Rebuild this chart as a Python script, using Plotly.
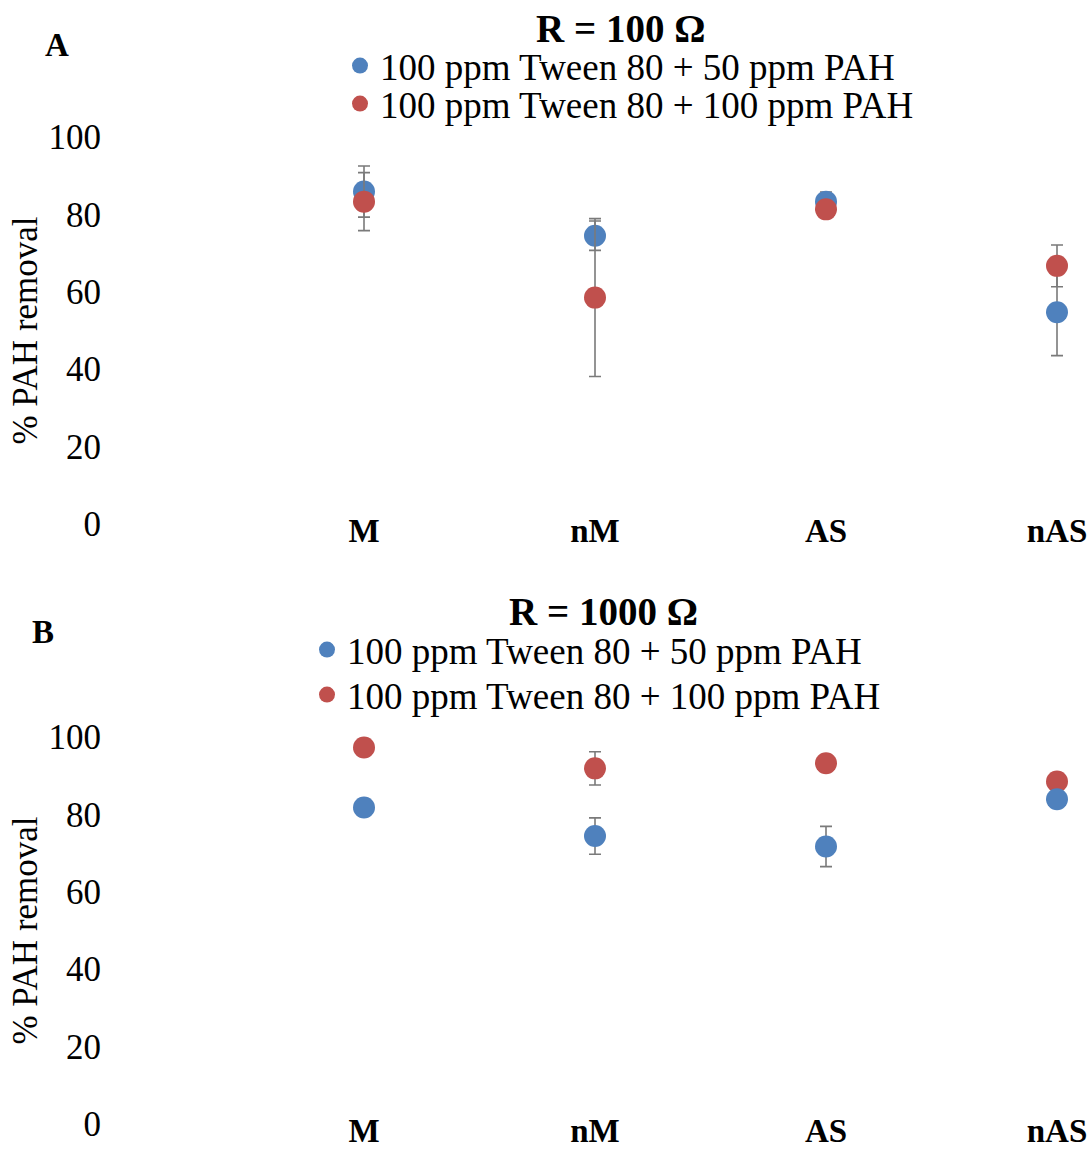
import plotly.graph_objects as go
from plotly.subplots import make_subplots

categories = ["M", "nM", "AS", "nAS"]
y_ticks = [0, 20, 40, 60, 80, 100]

# Panel A: R = 100 Ohm
a_50ppm = [85.9, 74.5, 83.3, 54.7]
a_50ppm_err = [6.6, 3.8, 2.5, 11.2]
a_100ppm = [83.3, 58.5, 81.3, 66.7]
a_100ppm_err = [7.5, 20.4, 1.5, 5.4]

# Panel B: R = 1000 Ohm
b_50ppm = [81.8, 74.4, 71.7, 83.9]
b_50ppm_err = [1.5, 4.7, 5.2, 1.5]
b_100ppm = [97.3, 91.9, 93.2, 88.5]
b_100ppm_err = [1.5, 4.3, 1.5, 1.5]

label_50 = "100 ppm Tween 80 + 50 ppm PAH"
label_100 = "100 ppm Tween 80 + 100 ppm PAH"

BLUE = "#4F81BD"
RED = "#C0504D"
ERR = "#7a7a7a"
FONT = "Liberation Serif"
W, H = 1089, 1151
L = 108

fig = make_subplots(rows=2, cols=1)

def add(row, y, err, color, name, legend):
    fig.add_trace(go.Scatter(
        x=categories, y=y, mode="markers", name=name,
        marker=dict(color=color, size=22, symbol="circle"),
        error_y=dict(type="data", array=err, visible=True, color=ERR,
                     thickness=1.6, width=6),
        cliponaxis=False, legend=legend, showlegend=True,
    ), row=row, col=1)

add(1, a_50ppm, a_50ppm_err, BLUE, label_50, "legend")
add(1, a_100ppm, a_100ppm_err, RED, label_100, "legend2")
add(2, b_100ppm, b_100ppm_err, RED, label_100, "legend4")
add(2, b_50ppm, b_50ppm_err, BLUE, label_50, "legend3")

def py(pix):
    return 1 - pix / H

def px(pix):
    return (pix - L) / (W - L)

xr = [(L - 364) / 231, (W - 364) / 231]
for r, (top, bot) in zip([1, 2], [(137, 524), (737, 1124)]):
    fig.update_xaxes(type="category", range=xr, showgrid=False, zeroline=False,
                     showline=False, ticks="", ticklabelstandoff=-16, automargin=False,
                     tickfont=dict(family=FONT, size=33, color="black", weight="bold"),
                     row=r, col=1)
    fig.update_yaxes(range=[0, 100], domain=[py(bot), py(top)], tickvals=y_ticks,
                     showgrid=False, zeroline=False, showline=False, ticks="",
                     automargin=False, ticklabelstandoff=6,
                     tickfont=dict(family=FONT, size=35, color="black"),
                     title=dict(text="% PAH removal", font=dict(family=FONT, size=35, color="black"),
                                standoff=0),
                     row=r, col=1)

def ann(text, x, y, size):
    return dict(text=text, x=px(x), y=py(y), xref="paper", yref="paper",
                xanchor="center", yanchor="middle", showarrow=False,
                font=dict(family=FONT, size=size, color="black"))

annotations = [
    ann("<b>A</b>", 57, 45, 33),
    ann("<b>B</b>", 43, 632, 33),
    ann("<b>R = 100 Ω</b>", 620, 28, 39),
    ann("<b>R = 1000 Ω</b>", 603, 611, 39),
]

def leg(marker_x, row_y):
    # one-entry legend; first row centre sits ~29 px below legend top
    return dict(x=px(marker_x - 22), xanchor="left", y=py(row_y - 29), yanchor="top",
                font=dict(family=FONT, size=37, color="black"),
                bgcolor="rgba(0,0,0,0)", itemsizing="trace", visible=True)

fig.update_layout(
    width=W, height=H,
    margin=dict(l=L, r=0, t=0, b=0),
    plot_bgcolor="white", paper_bgcolor="white",
    showlegend=True,
    annotations=annotations,
    legend=leg(362, 64),
    legend2=leg(362, 102),
    legend3=leg(329, 648),
    legend4=leg(329, 693),
)

fig.write_html("out.html")
